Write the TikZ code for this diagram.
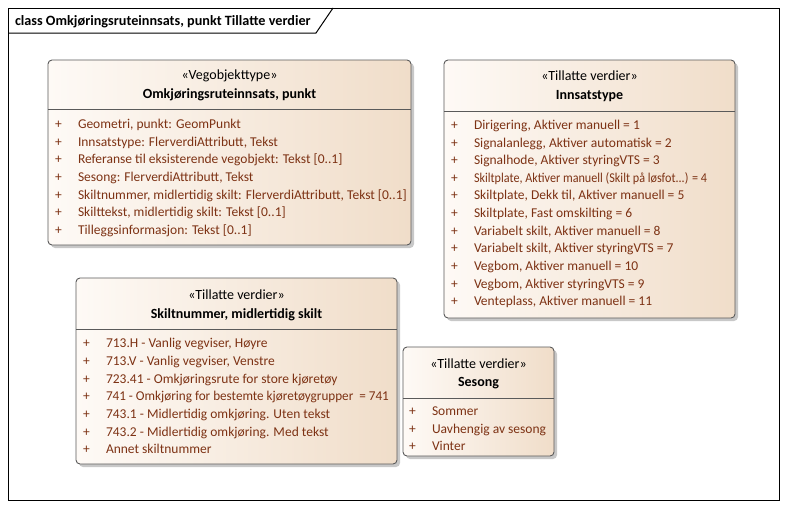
\documentclass[tikz,border=0pt]{standalone}
\usepackage{fontspec}
\setmainfont{Carlito}
\usetikzlibrary{calc}
\definecolor{attr}{RGB}{125,50,20}
\definecolor{tanR}{RGB}{240,221,201}
\definecolor{tanL}{RGB}{254,250,246}
\definecolor{shad}{RGB}{200,200,200}
\definecolor{edge}{RGB}{90,90,90}
\tikzset{
  x=1pt,y=-1pt,
  every node/.style={inner sep=0pt,outer sep=0pt},
  lbl/.style={font=\fontsize{13.5}{15}\selectfont,anchor=base west,text=attr},
  hdr/.style={font=\fontsize{14}{16}\selectfont,anchor=base},
  hdrb/.style={font=\bfseries\fontsize{14}{16}\selectfont,anchor=base},
}
% box: x1,y1,x2,y2,divider y
\newcommand{\umlbox}[6]{%
  \fill[shad,rounded corners=4pt] (#1+3,#2+3) rectangle (#3+3,#4+3);
  \shade[left color=tanL,right color=tanR,rounded corners=4pt] (#1,#2) rectangle (#3,#4);
  \draw[edge,line width=0.9pt,rounded corners=4pt] (#1,#2) rectangle (#3,#4);
  \draw[edge,line width=0.8pt] (#1,#5) -- (#3,#5);
  \coordinate (#6) at (#1,#2);
}
\newcommand{\attrrow}[4]{% plusx, textx, y, text
  \node[lbl] at (#1,#3) {+};
  \node[lbl] at (#2,#3) {#4};
}
\begin{document}
\begin{tikzpicture}
\useasboundingbox (0,0) rectangle (787,509);
\fill[white] (0,0) rectangle (787,509);
% frame
\draw[black,line width=1pt] (8,8) rectangle (779,500);
\draw[black,line width=1pt] (8,33) -- (316,33) -- (333,8);
\node[font=\bfseries\fontsize{14.2}{16}\selectfont,anchor=base west] (title) at (15,25.5) {class Omkjøringsruteinnsats, punkt Tillatte verdier};

% Box 1
\umlbox{48}{60}{411}{245}{109}{b1}
\node[hdr] (b1s) at (229.5,79) {«Vegobjekttype»};
\node[hdrb] (b1n) at (229.5,98) {Omkjøringsruteinnsats, punkt};
\attrrow{55}{78}{128}{Geometri, punkt: GeomPunkt}
\attrrow{55}{78}{146}{Innsatstype: FlerverdiAttributt, Tekst}
\attrrow{55}{78}{163.5}{Referanse til eksisterende vegobjekt: Tekst [0..1]}
\attrrow{55}{78}{181}{Sesong: FlerverdiAttributt, Tekst}
\attrrow{55}{78}{199}{Skiltnummer, midlertidig skilt: FlerverdiAttributt, Tekst [0..1]}
\attrrow{55}{78}{216.5}{Skilttekst, midlertidig skilt: Tekst [0..1]}
\attrrow{55}{78}{234}{Tilleggsinformasjon: Tekst [0..1]}

% Box 2
\umlbox{444}{60}{735}{318}{111}{b2}
\node[hdr] (b2s) at (589.5,80) {«Tillatte verdier»};
\node[hdrb] (b2n) at (589.5,99) {Innsatstype};
\attrrow{451}{474}{129}{Dirigering, Aktiver manuell = 1}
\attrrow{451}{474}{147}{Signalanlegg, Aktiver automatisk = 2}
\attrrow{451}{474}{164}{Signalhode, Aktiver styringVTS = 3}
\attrrow{451}{474}{182}{\scalebox{0.9}[1]{Skiltplate, Aktiver manuell (Skilt på løsfot...) = 4}}
\attrrow{451}{474}{199.5}{Skiltplate, Dekk til, Aktiver manuell = 5}
\attrrow{451}{474}{217}{Skiltplate, Fast omskilting = 6}
\attrrow{451}{474}{235}{Variabelt skilt, Aktiver manuell = 8}
\attrrow{451}{474}{252.5}{Variabelt skilt, Aktiver styringVTS = 7}
\attrrow{451}{474}{270}{Vegbom, Aktiver manuell = 10}
\attrrow{451}{474}{288}{Vegbom, Aktiver styringVTS = 9}
\attrrow{451}{474}{305.5}{Venteplass, Aktiver manuell = 11}

% Box 3
\umlbox{76}{278}{397}{464}{329}{b3}
\node[hdr] (b3s) at (236.5,299) {«Tillatte verdier»};
\node[hdrb] (b3n) at (236.5,318) {Skiltnummer, midlertidig skilt};
\attrrow{83}{106}{347}{713.H - Vanlig vegviser, Høyre}
\attrrow{83}{106}{365}{713.V - Vanlig vegviser, Venstre}
\attrrow{83}{106}{383}{723.41 - Omkjøringsrute for store kjøretøy}
\attrrow{83}{106}{400.5}{\scalebox{0.975}[1]{741 - Omkjøring for bestemte kjøretøygrupper\ \ = 741}}
\attrrow{83}{106}{418}{743.1 - Midlertidig omkjøring. Uten tekst}
\attrrow{83}{106}{436}{743.2 - Midlertidig omkjøring. Med tekst}
\attrrow{83}{106}{453.5}{Annet skiltnummer}

% Box 4
\umlbox{403}{347}{554}{456}{398}{b4}
\node[hdr] (b4s) at (478.5,368) {«Tillatte verdier»};
\node[hdrb] (b4n) at (478.5,386) {Sesong};
\attrrow{409}{432}{415}{Sommer}
\attrrow{409}{432}{433}{Uavhengig av sesong}
\attrrow{409}{432}{450}{Vinter}
\end{tikzpicture}
\end{document}
